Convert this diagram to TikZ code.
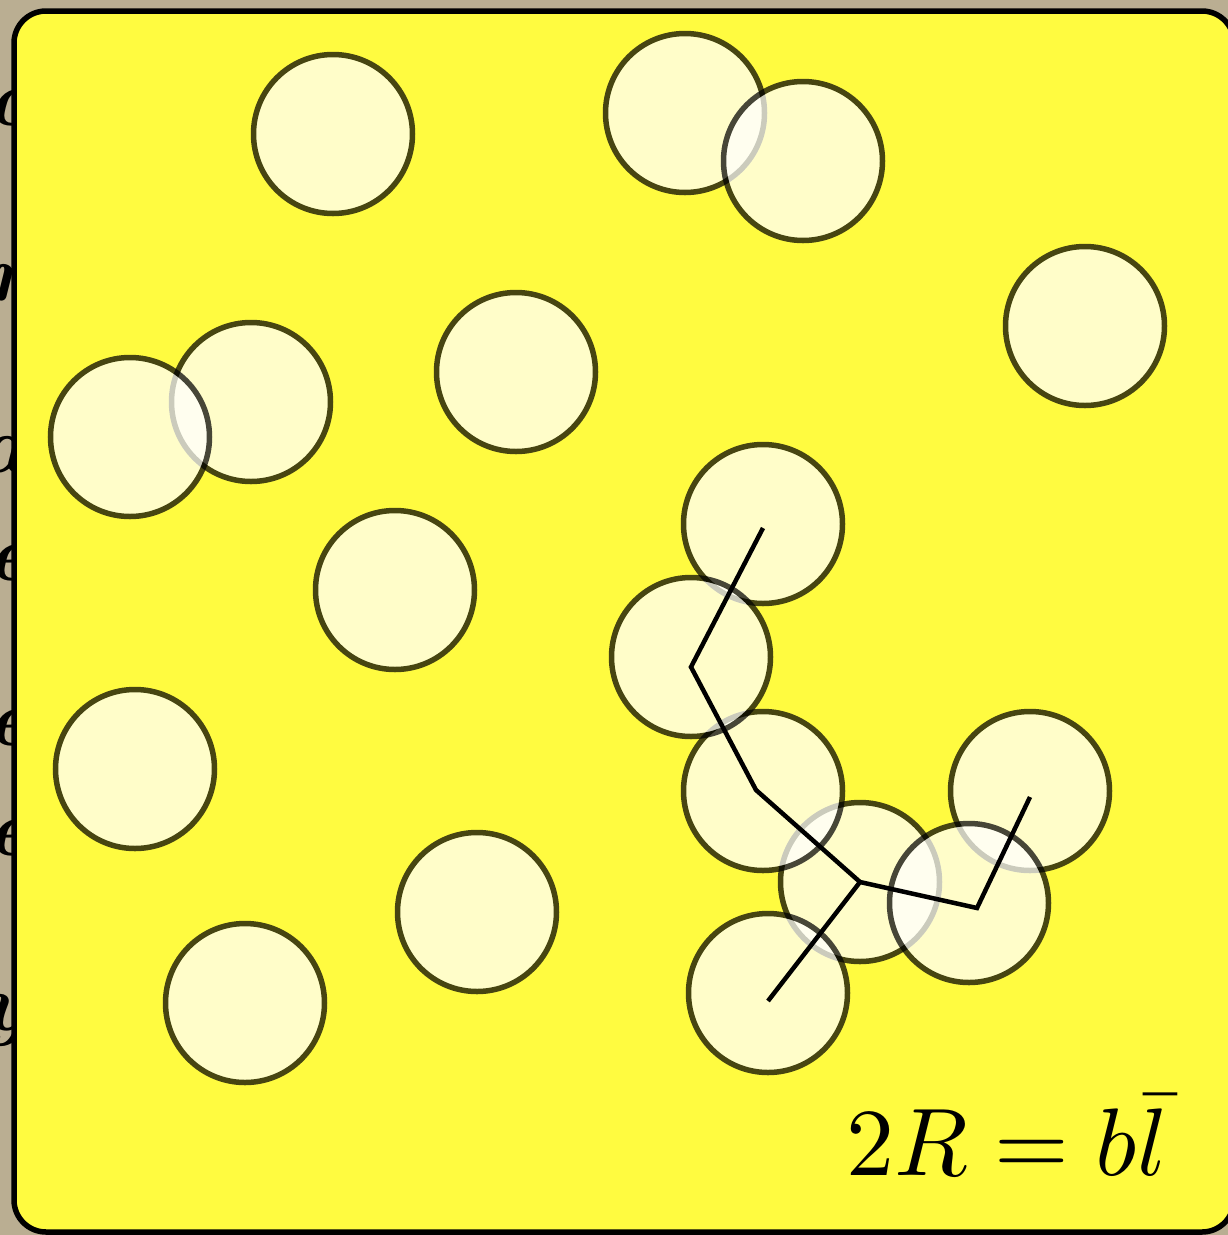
\documentclass[tikz,border=0pt]{standalone}
\usepackage{graphicx}
\newcommand\drawbead[2]{\begin{scope}[transparency group,opacity=0.72]\node[bead] (#1) at (#2) {};\end{scope}}
\newcommand\bigglyph[1]{\scalebox{8}{\bfseries\itshape #1}}
\begin{document}
\begin{tikzpicture}[x=1pt,y=-1pt,
  bead/.style={circle,draw=black,fill=white,line width=5.5pt,minimum size=159pt,inner sep=0pt,outer sep=0pt},
  chainline/.style={line width=4.5pt,black},
  frame/.style={line width=5.5pt,draw=black,fill=boxyellow,rounded corners=32pt},
  glyph/.style={text=black,inner sep=0pt,anchor=base east}]
\definecolor{boxyellow}{RGB}{255,251,64}
\definecolor{paper}{RGB}{186,174,146}
\useasboundingbox (0,0) rectangle (1228,1235);
\fill[paper] (0,0) rectangle (1228,1235);
% background text fragments peeking out at the left edge
\node[glyph] (g1) at (30,125) {\bigglyph{c}};
\node[glyph] (g2) at (28,300) {\bigglyph{r}};
\node[glyph] (g3) at (26,472) {\bigglyph{a}};
\node[glyph] (g4) at (30,580) {\bigglyph{e}};
\node[glyph] (g5) at (30,745) {\bigglyph{e}};
\node[glyph] (g6) at (30,855) {\bigglyph{e}};
\node[glyph] (g7) at (28,1030) {\bigglyph{y}};
% frame
\draw[frame] (14,11) rectangle (1234,1232);
% beads
\drawbead{c1}{333,134}
\drawbead{c2}{685,113}
\drawbead{c3}{803,161}
\drawbead{c4}{1085,326}
\drawbead{c5}{251,402}
\drawbead{c6}{130,437}
\drawbead{c7}{516,372}
\drawbead{c8}{763,524}
\drawbead{c9}{395,590}
\drawbead{c14}{860,882}
\drawbead{c12}{763,791}
\drawbead{c10}{691,657}
\drawbead{c11}{135,769}
\drawbead{c13}{1030,791}
\drawbead{c15}{969,903}
\drawbead{c16}{477,912}
\drawbead{c17}{245,1003}
\drawbead{c18}{768,993}
% chain
\coordinate (p1) at (763,528);
\coordinate (p2) at (691,667);
\coordinate (p3) at (756,790);
\coordinate (p4) at (860,882);
\coordinate (p5) at (977,908);
\coordinate (p6) at (1030,797);
\coordinate (p7) at (768,1001);
\draw[chainline] (p1) -- (p2) -- (p3) -- (p4) -- (p5) -- (p6);
\draw[chainline] (p4) -- (p7);
% label
\node[anchor=base west,inner sep=0pt] (eq) at (846,1175) {\scalebox{9.6}{$2R=b\bar{l}$}};
\end{tikzpicture}
\end{document}
